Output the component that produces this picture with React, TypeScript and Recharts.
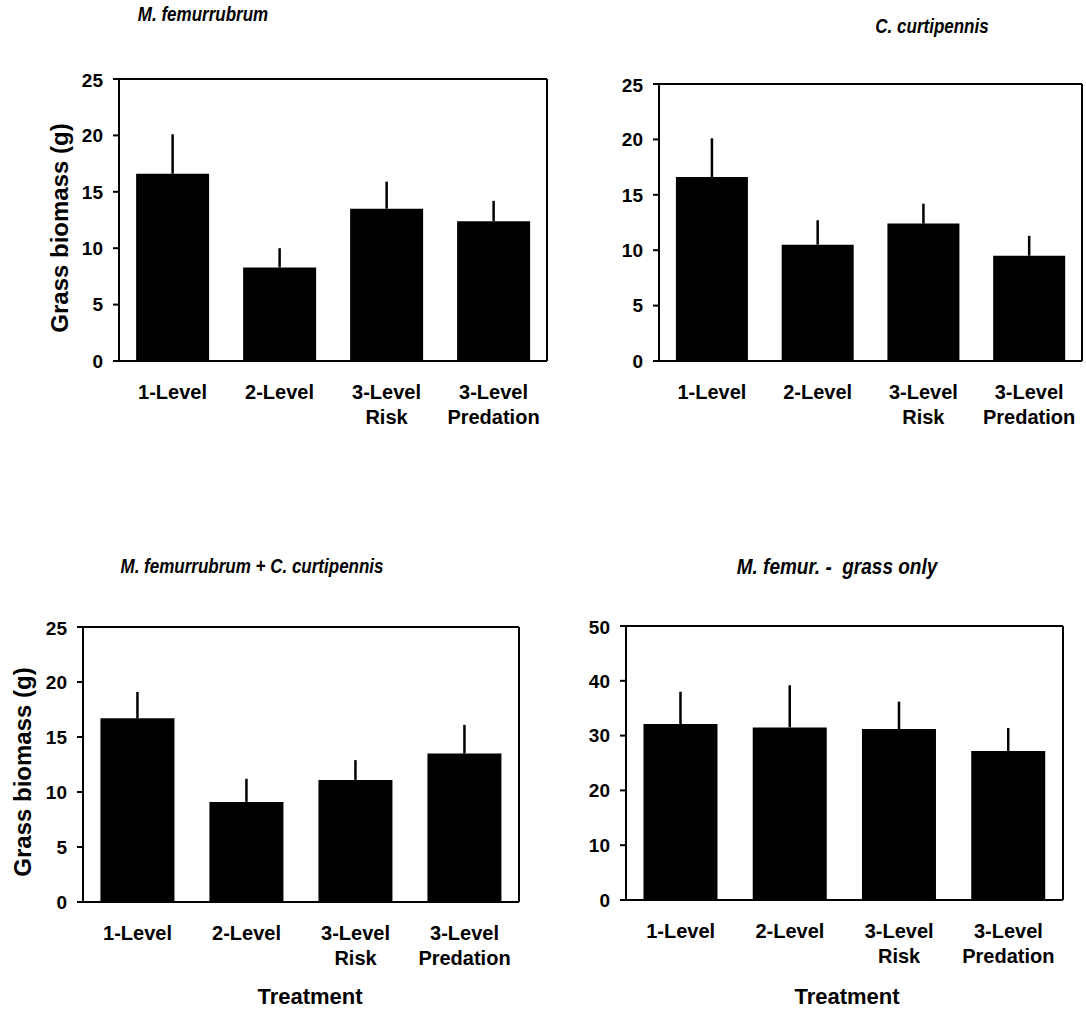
import React from "react";
import { BarChart, Bar, XAxis, YAxis, ErrorBar } from "recharts";

// treatment categories (second line after \n)
const treatments = ["1-Level", "2-Level", "3-Level\nRisk", "3-Level\nPredation"];

// M. femurrubrum
const femurMeans = [16.6, 8.3, 13.5, 12.4];
const femurErrors = [3.5, 1.7, 2.4, 1.8];

// C. curtipennis
const curtiMeans = [16.6, 10.5, 12.4, 9.5];
const curtiErrors = [3.5, 2.2, 1.8, 1.8];

// M. femurrubrum + C. curtipennis
const mixMeans = [16.7, 9.1, 11.1, 13.5];
const mixErrors = [2.4, 2.1, 1.8, 2.6];

// M. femur. - grass only
const grassMeans = [32.1, 31.5, 31.2, 27.2];
const grassErrors = [5.9, 7.7, 5.0, 4.2];

const ticks25 = [0, 5, 10, 15, 20, 25];
const ticks50 = [0, 10, 20, 30, 40, 50];

const FONT = "'Liberation Sans', Arial, Helvetica, sans-serif";

const buildData = (means, errors) =>
  treatments.map((name, i) => ({ name, mean: means[i], err: [0, errors[i]] }));

const TreatmentTick = ({ x, y, payload }) => {
  const lines = String(payload.value).split("\n");
  return (
    <text x={x} y={y} textAnchor="middle" fontSize={20} fontWeight="bold" fill="#000" fontFamily={FONT}>
      {lines.map((line, i) => (
        <tspan key={i} x={x} dy={i === 0 ? 38 : 25}>
          {line}
        </tspan>
      ))}
    </text>
  );
};

const LEFT = 110;
const TOP = 10;

const Panel = ({ plot, data, ticks }) => {
  // the top axis and right axis are 1px each, they draw the box frame
  const width = LEFT + plot.w + 1 + 4;
  const height = TOP + plot.h + 80;
  return (
    <div style={{ position: "absolute", left: plot.x - LEFT, top: plot.y - TOP }}>
      <BarChart
        width={width}
        height={height}
        data={data}
        margin={{ top: TOP - 1, right: 4, bottom: 10, left: LEFT - 60 }}
        barCategoryGap="16%"
      >
        <XAxis
          dataKey="name"
          tick={<TreatmentTick />}
          tickLine={false}
          tickSize={0}
          tickMargin={0}
          height={70}
          interval={0}
          axisLine={{ stroke: "#000", strokeWidth: 2 }}
        />
        <XAxis
          xAxisId="top"
          orientation="top"
          dataKey="name"
          tick={false}
          tickLine={false}
          height={1}
          axisLine={{ stroke: "#000", strokeWidth: 2 }}
        />
        <YAxis
          domain={[ticks[0], ticks[ticks.length - 1]]}
          ticks={ticks}
          width={60}
          tickSize={6}
          tickMargin={10}
          tickLine={{ stroke: "#000", strokeWidth: 2 }}
          axisLine={{ stroke: "#000", strokeWidth: 2 }}
          tick={{ fill: "#000", fontSize: 19, fontWeight: "bold", fontFamily: FONT }}
        />
        <YAxis
          yAxisId="right"
          orientation="right"
          width={1}
          tick={false}
          tickLine={false}
          axisLine={{ stroke: "#000", strokeWidth: 2 }}
        />
        <Bar dataKey="mean" fill="#000" isAnimationActive={false}>
          <ErrorBar dataKey="err" direction="y" width={0} stroke="#000" strokeWidth={2.5} isAnimationActive={false} />
        </Bar>
      </BarChart>
    </div>
  );
};

const Title = ({ x, y, text, size = 17 }) => (
  <div
    style={{
      position: "absolute",
      left: x,
      top: y,
      transform: "translate(-50%, -50%) scaleY(1.15)",
      whiteSpace: "pre",
      fontFamily: FONT,
      fontWeight: "bold",
      fontStyle: "italic",
      fontSize: size,
    }}
  >
    {text}
  </div>
);

const AxisText = ({ x, y, text, rotate = false, size }) => (
  <div
    style={{
      position: "absolute",
      left: x,
      top: y,
      transform: `translate(-50%, -50%)${rotate ? " rotate(-90deg)" : ""}`,
      whiteSpace: "nowrap",
      fontFamily: FONT,
      fontWeight: "bold",
      fontSize: size,
    }}
  >
    {text}
  </div>
);

export default function App() {
  return (
    <div
      style={{
        position: "absolute",
        left: 0,
        top: 0,
        width: 1086,
        height: 1009,
        overflow: "hidden",
        background: "#fff",
      }}
    >
      <Title x={203} y={15} text="M. femurrubrum" />
      <Title x={932} y={27} text="C. curtipennis" />
      <Title x={252} y={567} text="M. femurrubrum + C. curtipennis" />
      <Title x={837} y={567} text="M. femur. -  grass only" size={19} />

      <Panel plot={{ x: 119, y: 79, w: 428, h: 282 }} data={buildData(femurMeans, femurErrors)} ticks={ticks25} />
      <Panel plot={{ x: 659, y: 84, w: 423, h: 277 }} data={buildData(curtiMeans, curtiErrors)} ticks={ticks25} />
      <Panel plot={{ x: 83, y: 627, w: 436, h: 275 }} data={buildData(mixMeans, mixErrors)} ticks={ticks25} />
      <Panel plot={{ x: 626, y: 626, w: 437, h: 274 }} data={buildData(grassMeans, grassErrors)} ticks={ticks50} />

      <AxisText x={60} y={228} text="Grass biomass (g)" rotate size={24} />
      <AxisText x={23} y={772} text="Grass biomass (g)" rotate size={24} />
      <AxisText x={310} y={997} text="Treatment" size={22} />
      <AxisText x={847} y={997} text="Treatment" size={22} />
    </div>
  );
}
